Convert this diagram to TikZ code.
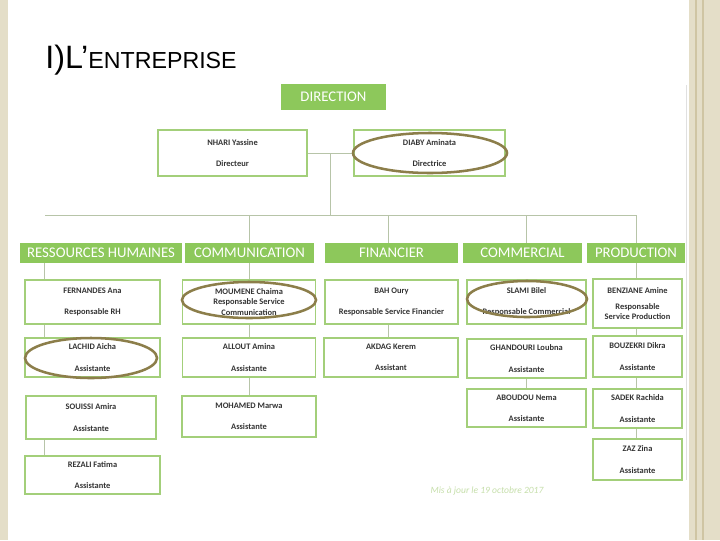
\documentclass[tikz,border=0pt]{standalone}
\usepackage{fontspec}
\setmainfont{Carlito}
\newfontfamily\titlefont{Liberation Sans}
\usetikzlibrary{positioning}
\definecolor{orggreen}{HTML}{8DC85B}
\definecolor{orgframe}{HTML}{A3CF7A}
\definecolor{orglink}{HTML}{B7C4A8}
\definecolor{orgring}{HTML}{8C7E4A}
\definecolor{orgbeige}{HTML}{E4DEC8}
\definecolor{orgtan}{HTML}{CFC5A3}
\definecolor{orgnote}{HTML}{C6DFAA}
\newcommand{\entete}[1]{{\titlefont\fontsize{23pt}{25pt}\selectfont #1}}

\begin{document}
\begin{tikzpicture}[
  x=0.025cm, y=-0.025cm,
  wh/.style 2 args={minimum width=#1*0.025cm, minimum height=#2*0.025cm},
  head/.style={fill=orggreen, text=white, inner sep=0pt, font=\fontsize{10.5pt}{12pt}\selectfont},
  who/.style={draw=orgframe, line width=1.4pt, fill=white, inner sep=0pt, align=center, font=\fontsize{6pt}{7.2pt}\selectfont\bfseries\color{black!80}},
  link/.style={draw=orglink, line width=0.6pt},
  ring/.style={draw=orgring, line width=1.8pt}
]
\useasboundingbox (0,0) rectangle (720,540);
% page and margins
\fill[white] (0,0) rectangle (720,540);
\fill[orgbeige] (0,0) rectangle (8,540);
\fill[orgbeige] (689,0) rectangle (720,540);
\draw[orgtan, line width=1pt] (696,0) -- (696,540) (703,0) -- (703,540);
\draw[black!12, line width=0.4pt] (686,85) -- (686,480);

\node[anchor=base west, inner sep=0pt] (title) at (45,68) {\entete{I)L’}{\titlefont\fontsize{16.5pt}{18pt}\selectfont ENTREPRISE}};

% direction
\node[head, wh={105}{26}] (dir) at (333.5,97) {DIRECTION};
\node[who, wh={149}{46}] (nhari) at (232.5,153) {NHARI Yassine\\[8pt]Directeur};
\node[who, wh={151}{46}] (diaby) at (429.5,153) {DIABY Aminata\\[8pt]Directrice};

% services
\node[head, wh={162}{20}] (rh) at (101,253) {RESSOURCES HUMAINES};
\node[head, wh={129}{20}] (comm) at (249.5,253) {COMMUNICATION};
\node[head, wh={133}{20}] (fin) at (391.5,253) {FINANCIER};
\node[head, wh={119}{20}] (com) at (522.5,253) {COMMERCIAL};
\node[head, wh={98}{20}] (prod) at (636,253) {PRODUCTION};

% responsables
\node[who, wh={135}{44}] (fernandes) at (92.5,302) {FERNANDES Ana\\[8pt]Responsable RH};
\node[who, wh={133}{44}] (moumene) at (249,302) {MOUMENE Chaima\\Responsable Service\\Communication};
\node[who, wh={133}{44}] (bah) at (391.5,302) {BAH Oury\\[8pt]Responsable Service Financier};
\node[who, wh={119}{44}] (slami) at (526.5,302) {SLAMI Bilel\\[8pt]Responsable Commercial};
\node[who, wh={89}{49}] (benziane) at (637.5,303.5) {BENZIANE Amine\\[4pt]Responsable\\Service Production};

% assistants
\node[who, wh={135}{39}] (lachid) at (92.5,357.5) {LACHID Aicha\\[8pt]Assistante};
\node[who, wh={133}{39}] (allout) at (249,357.5) {ALLOUT Amina\\[8pt]Assistante};
\node[who, wh={134}{39}] (akdag) at (391,357.5) {AKDAG Kerem\\[8pt]Assistant};
\node[who, wh={119}{39}] (ghandouri) at (526.5,358.5) {GHANDOURI Loubna\\[8pt]Assistante};
\node[who, wh={89}{41}] (bouzekri) at (637.5,356.5) {BOUZEKRI Dikra\\[8pt]Assistante};
\node[who, wh={130}{43}] (souissi) at (91,417.5) {SOUISSI Amira\\[8pt]Assistante};
\node[who, wh={134}{41}] (mohamed) at (249,416.5) {MOHAMED Marwa\\[8pt]Assistante};
\node[who, wh={119}{38}] (aboudou) at (526.5,408) {ABOUDOU Nema\\[8pt]Assistante};
\node[who, wh={89}{39}] (sadek) at (637.5,408.5) {SADEK Rachida\\[8pt]Assistante};
\node[who, wh={135}{38}] (rezali) at (92.5,475) {REZALI Fatima\\[8pt]Assistante};
\node[who, wh={89}{41}] (zaz) at (637.5,459.5) {ZAZ Zina\\[8pt]Assistante};

\node[font=\fontsize{6.8pt}{8pt}\selectfont\itshape, text=orgnote] (maj) at (487,491) {Mis à jour le 19 octobre 2017};

% liaisons
\coordinate (mid) at (330.5,153);
\coordinate (busL) at (45,215); \coordinate (busR) at (636,215); \coordinate (busM) at (330.5,215);
\coordinate (cRH) at (44,0); \coordinate (cCM) at (249,0); \coordinate (cFI) at (388,0); \coordinate (cCO) at (526,0); \coordinate (cPR) at (636,0);
\draw[link] (nhari) -- (diaby); \draw[link] (mid) -- (busM); \draw[link] (busL) -- (busR);
\draw[link] (cCM |- busL) -- (cCM |- comm.north); \draw[link] (cFI |- busL) -- (cFI |- fin.north);
\draw[link] (cCO |- busL) -- (cCO |- com.north); \draw[link] (busR) -- (prod.north);
\draw[link] (cRH |- rh.south) -- (cRH |- fernandes.north); \draw[link] (cRH |- fernandes.south) -- (cRH |- lachid.north);
\draw[link] (cRH |- souissi.south) -- (cRH |- rezali.north);
\draw[link] (cCM |- comm.south) -- (cCM |- moumene.north); \draw[link] (cCM |- moumene.south) -- (cCM |- allout.north);
\draw[link] (cCM |- allout.south) -- (cCM |- mohamed.north);
\draw[link] (cFI |- bah.south) -- (cFI |- akdag.north);
\draw[link] (cCO |- ghandouri.south) -- (cCO |- aboudou.north);
\draw[link] (cPR |- prod.south) -- (cPR |- benziane.north); \draw[link] (cPR |- benziane.south) -- (cPR |- bouzekri.north);
\draw[link] (cPR |- bouzekri.south) -- (cPR |- sadek.north); \draw[link] (cPR |- sadek.south) -- (cPR |- zaz.north);

% reperes
\draw[ring] (430,153) ellipse (77 and 20);
\draw[ring] (249,300) ellipse (67 and 18);
\draw[ring] (527,299) ellipse (60 and 18);
\draw[ring] (91,358) ellipse (66 and 20);
\end{tikzpicture}
\end{document}
